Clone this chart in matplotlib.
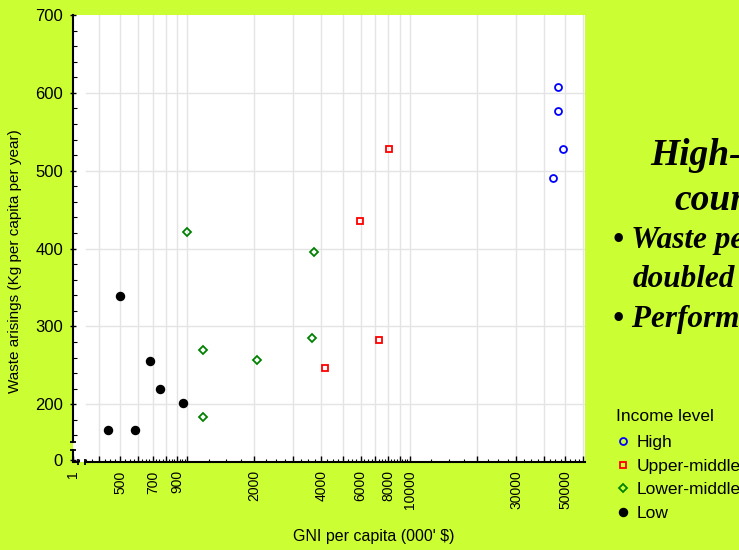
import numpy as np
import matplotlib
matplotlib.use("Agg")
import matplotlib.pyplot as plt

plt.rcParams['font.family'] = ['Liberation Sans', 'DejaVu Sans']

# GNI per capita ($) and waste arisings (kg per capita per year)
high_gni = [46100, 46100, 48600, 43800]
high_waste = [608, 577, 528, 490]

upper_gni = [8030, 5990, 7240, 4170]
upper_waste = [528, 436, 283, 247]

lower_gni = [994, 3700, 1180, 2050, 3630, 1180]
lower_waste = [421, 395, 270, 257, 285, 184]

low_gni = [442, 580, 500, 680, 752, 960]
low_waste = [167, 167, 339, 255, 219, 201]

x_labelled = [500, 700, 900, 2000, 4000, 6000, 8000, 10000, 30000, 50000]
y_labelled = [200, 300, 400, 500, 600, 700]

bg = '#ccff33'
xmin, xmax = 307.5, 61200
ymin, ymax = 125.8, 700

fig = plt.figure(figsize=(7.39, 5.5), dpi=100, facecolor=bg)
ax = fig.add_axes([73.3 / 739, 1 - 462 / 550, (585 - 73.3) / 739, (462 - 15) / 550])
ax.set_facecolor('white')
ax.set_xscale('log')
ax.set_xlim(xmin, xmax)
ax.set_ylim(ymin, ymax)

# grid lines at every multiple of the decade
grid_x = [m * d for d in (100, 1000, 10000) for m in range(1, 10) if xmin < m * d < xmax]
for gx in grid_x:
    ax.axvline(gx, color='#e4e4e4', lw=1, zorder=0)
for gy in y_labelled[:-1]:
    ax.axhline(gy, xmin=0.025, color='#e4e4e4', lw=1, zorder=0)

ax.plot(high_gni, high_waste, 'o', ms=5, mfc='none', mec='#0000ff', mew=1.3, label='High')
ax.plot(upper_gni, upper_waste, 's', ms=5, mfc='none', mec='#ff0000', mew=1.3, label='Upper-middle')
ax.plot(lower_gni, lower_waste, 'D', ms=4, mfc='none', mec='#008000', mew=1.3, label='Lower-middle')
ax.plot(low_gni, low_waste, 'o', ms=5.8, color='black', label='Low')

# ticks
ax.set_xticks([xmin] + grid_x)
ax.set_xticklabels(['1'] + [str(g) if g in x_labelled else '' for g in grid_x],
                   rotation=90, fontsize=10)
minor_x = []
for d in (100, 1000, 10000):
    for m in np.arange(1, 10, 0.25):
        v = m * d
        if xmin < v < xmax and v not in grid_x:
            minor_x.append(v)
ax.set_xticks(minor_x, minor=True)
ax.set_xticklabels([], minor=True)
ax.tick_params(axis='x', which='major', direction='in', length=4, width=1, pad=6)
ax.tick_params(axis='x', which='minor', direction='in', length=2, width=0.8)

ax.set_yticks([128.4] + y_labelled)
ax.set_yticklabels(['0'] + [str(v) for v in y_labelled], fontsize=12)
ax.set_yticks([v for v in range(160, 700, 20) if v % 100], minor=True)
ax.tick_params(axis='y', which='major', direction='inout', length=5, width=1, pad=5)
ax.tick_params(axis='y', which='minor', direction='in', length=3, width=0.8)

# axis lines with breaks near the origin
for s in ('top', 'right'):
    ax.spines[s].set_visible(False)
ax.spines['left'].set_linewidth(1.5)
ax.spines['bottom'].set_linewidth(1.5)
ax.spines['left'].set_bounds(151, ymax)
ax.spines['bottom'].set_bounds(347, xmax)
ax.plot([xmin, xmin, 323], [141, ymin, ymin], color='black', lw=1.5, clip_on=False,
        solid_joinstyle='miter', zorder=5)
ax.plot([xmin, xmin], [141, 151], ls='none', marker='_', ms=5, mew=1.3, color='black',
        clip_on=False, zorder=5)
ax.plot([323, 347], [ymin, ymin], ls='none', marker='|', ms=5, mew=1.3, color='black',
        clip_on=False, zorder=5)

fig.text(15 / 739, 1 - 261 / 550, 'Waste arisings (Kg per capita per year)',
         rotation=90, ha='center', va='center', fontsize=11)
fig.text(374 / 739, 1 - 537 / 550, "GNI per capita (000' $)",
         ha='center', va='center', fontsize=11.5)

# side note (runs off the right edge, as in the original slide)
serif = dict(family=['Liberation Serif', 'DejaVu Serif'], weight='bold', style='italic',
             va='baseline', ha='left')
fig.text(650 / 739, 1 - 165 / 550, 'High-income', fontsize=27, **serif)
fig.text(674 / 739, 1 - 210 / 550, 'countries', fontsize=27, **serif)
fig.text(613 / 739, 1 - 248 / 550, '\u2022 Waste per capita', fontsize=22.5, **serif)
fig.text(633 / 739, 1 - 287 / 550, 'doubled', fontsize=22.5, **serif)
fig.text(613 / 739, 1 - 327 / 550, '\u2022 Performance', fontsize=22.5, **serif)

handles, labels = ax.get_legend_handles_labels()
leg = fig.legend(handles, labels, title='Income level', loc='upper left',
                 bbox_to_anchor=(604 / 739, 1 - 397 / 550), frameon=False,
                 fontsize=12.5, title_fontsize=12.5, handlelength=0.8,
                 handletextpad=0.4, labelspacing=0.48, borderpad=0.2,
                 alignment='left')
leg._legend_box.sep = 8

fig.savefig('out.png', dpi=100, facecolor=bg)
